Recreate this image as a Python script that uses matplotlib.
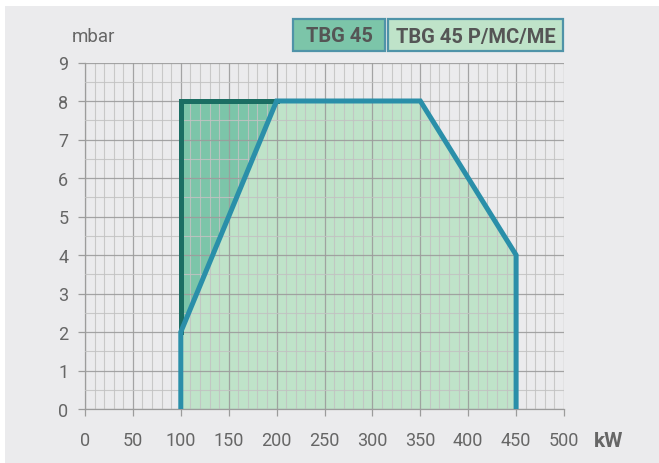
import matplotlib.pyplot as plt
from matplotlib.patches import Rectangle
from matplotlib.ticker import MultipleLocator

# burner working field data
kw_main = [100, 100, 200, 350, 450, 450]
mbar_main = [0, 2, 8, 8, 4, 0]
kw_tbg = [100, 100, 200]
mbar_tbg = [2, 8, 8]
legend_labels = ["TBG 45", "TBG 45 P/MC/ME"]
x_ticks = [0, 50, 100, 150, 200, 250, 300, 350, 400, 450, 500]
y_ticks = [0, 1, 2, 3, 4, 5, 6, 7, 8, 9]

plt.rcParams['font.family'] = ['Roboto', 'DejaVu Sans']

bg = "#ebebed"
light_green = "#bfe3c9"
mid_green = "#7cc5a9"
dark_green = "#1b6e63"
blue = "#2a8fa9"
text_col = "#666666"

fig = plt.figure(figsize=(6.59, 4.64), dpi=100, facecolor="white")
fig.patches.append(Rectangle((5 / 659, 0), 1, (464 - 7) / 464, transform=fig.transFigure,
                             facecolor=bg, edgecolor="none", zorder=-10))

ax = fig.add_axes([85 / 659, (464 - 410) / 464, 479 / 659, 346.5 / 464])
ax.set_facecolor(bg)

ax.fill(kw_main, mbar_main, color=light_green, zorder=1, lw=0)
ax.fill(kw_tbg, mbar_tbg, color=mid_green, zorder=1.2, lw=0)
ax.plot(kw_tbg, mbar_tbg, color=dark_green, lw=3.6, zorder=3, solid_joinstyle="miter")
ax.plot(kw_main, mbar_main, color=blue, lw=3.6, zorder=4, solid_capstyle="round",
        solid_joinstyle="miter")

ax.set_xlim(0, 500)
ax.set_ylim(0, 9)
ax.set_xticks(x_ticks)
ax.set_yticks(y_ticks)
ax.xaxis.set_minor_locator(MultipleLocator(10))
ax.yaxis.set_minor_locator(MultipleLocator(0.5))
ax.grid(which="minor", color="#c2c2c2", lw=0.8, alpha=0.85)
ax.grid(which="major", color="#9c9c9c", lw=0.9, alpha=0.9)
ax.set_axisbelow(False)
for l in ax.get_xgridlines() + ax.get_ygridlines():
    l.set_zorder(2)

ax.tick_params(which="major", length=5, color="#9c9c9c", width=0.9, labelsize=13,
               labelcolor=text_col)
ax.tick_params(axis="x", which="major", pad=11)
ax.tick_params(axis="y", which="major", pad=7)
ax.tick_params(which="minor", length=0)
for s in ["top", "right"]:
    ax.spines[s].set_visible(False)
for s in ["left", "bottom"]:
    ax.spines[s].set_color("#9c9c9c")
    ax.spines[s].set_linewidth(0.9)

fig.text(72 / 659, 1 - 37 / 464, "mbar", fontsize=13.5, color=text_col, va="center", ha="left")
fig.text(594 / 659, 1 - 442 / 464, "kW", fontsize=15, color=text_col, va="center", ha="left",
         fontweight="bold")

# legend boxes
boxes = [(293, 385, mid_green), (388, 563, light_green)]
for (x0, x1, fc), label in zip(boxes, legend_labels):
    fig.patches.append(Rectangle((x0 / 659, 1 - 52 / 464), (x1 - x0) / 659, 32 / 464,
                                 transform=fig.transFigure, facecolor=fc,
                                 edgecolor="#4f93a8", lw=1.6))
    fig.text((x0 + x1) / 2 / 659, 1 - 37 / 464, label, fontsize=14.5, fontweight="bold",
             color="#555555", ha="center", va="center")

fig.savefig("out.png", dpi=100, facecolor=fig.get_facecolor())
